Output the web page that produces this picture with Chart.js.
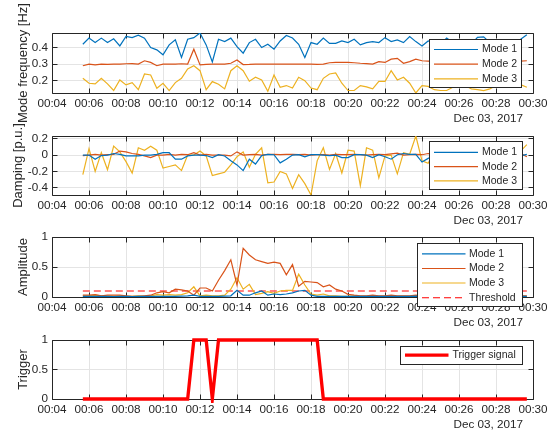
<!DOCTYPE html>
<html>
<head>
<meta charset="utf-8">
<script src="https://cdn.jsdelivr.net/npm/chart.js@4.4.1/dist/chart.umd.min.js"></script>
<style>
  html, body { margin: 0; padding: 0; background: #ffffff; }
  #panels { position: relative; width: 559px; height: 437px; }
  #panels canvas { position: absolute; left: 0; top: 0; }
</style>
</head>
<body>
<div id="panels">
  <canvas id="freq" width="559" height="437"></canvas>
  <canvas id="damp" width="559" height="437"></canvas>
  <canvas id="amp" width="559" height="437"></canvas>
  <canvas id="trig" width="559" height="437"></canvas>
</div>
<script>
// ---- sample instants (20 s resolution) ----
const sampleTimes = [
  '00:05:40',
  '00:06:00','00:06:20','00:06:40','00:07:00','00:07:20','00:07:40',
  '00:08:00','00:08:20','00:08:40','00:09:00','00:09:20','00:09:40',
  '00:10:00','00:10:20','00:10:40','00:11:00','00:11:20','00:11:40',
  '00:12:00','00:12:20','00:12:40','00:13:00','00:13:20','00:13:40',
  '00:14:00','00:14:20','00:14:40','00:15:00','00:15:20','00:15:40',
  '00:16:00','00:16:20','00:16:40','00:17:00','00:17:20','00:17:40',
  '00:18:00','00:18:20','00:18:40','00:19:00','00:19:20','00:19:40',
  '00:20:00','00:20:20','00:20:40','00:21:00','00:21:20','00:21:40',
  '00:22:00','00:22:20','00:22:40','00:23:00','00:23:20','00:23:40',
  '00:24:00','00:24:20','00:24:40','00:25:00','00:25:20','00:25:40',
  '00:26:00','00:26:20','00:26:40','00:27:00','00:27:20','00:27:40',
  '00:28:00','00:28:20','00:28:40','00:29:00','00:29:20','00:29:40'
];
const xTickLabels = ['00:04','00:06','00:08','00:10','00:12','00:14','00:16',
                     '00:18','00:20','00:22','00:24','00:26','00:28','00:30'];
const dateLabel = 'Dec 03, 2017';
const yTitles = ['Mode frequency [Hz]', 'Damping [p.u.]', 'Amplitude', 'Trigger'];
const modeNames = ['Mode 1', 'Mode 2', 'Mode 3'];

// ---- mode frequency [Hz] ----
const freqMode1 = [
  0.420,0.457,0.430,0.457,0.430,0.453,0.410,0.467,0.460,0.475,
  0.457,0.400,0.386,0.356,0.416,0.447,0.340,0.450,0.460,0.488,
  0.416,0.313,0.450,0.436,0.457,0.406,0.366,0.430,0.450,0.400,
  0.420,0.390,0.440,0.473,0.458,0.420,0.340,0.430,0.420,0.457,
  0.425,0.425,0.440,0.430,0.450,0.416,0.430,0.436,0.430,0.460,
  0.436,0.446,0.430,0.467,0.436,0.410,0.440,0.430,0.420,0.458,
  0.430,0.410,0.440,0.420,0.462,0.465,0.430,0.410,0.440,0.420,
  0.430,0.450,0.478
];
const freqMode2 = [
  0.290,0.300,0.295,0.300,0.298,0.300,0.300,0.302,0.303,0.300,
  0.320,0.310,0.290,0.300,0.300,0.300,0.302,0.300,0.390,0.295,
  0.298,0.300,0.300,0.300,0.305,0.325,0.297,0.298,0.300,0.300,
  0.300,0.300,0.300,0.300,0.300,0.300,0.300,0.300,0.298,0.300,
  0.308,0.310,0.310,0.310,0.308,0.305,0.303,0.300,0.315,0.310,
  0.330,0.335,0.305,0.315,0.330,0.320,0.318,0.315,0.312,0.310,
  0.312,0.315,0.318,0.315,0.312,0.310,0.315,0.318,0.320,0.318,
  0.315,0.318,0.320
];
const freqMode3 = [
  0.214,0.184,0.180,0.214,0.180,0.140,0.204,0.174,0.188,0.145,
  0.240,0.234,0.154,0.184,0.140,0.188,0.214,0.270,0.290,0.260,
  0.145,0.194,0.178,0.150,0.260,0.290,0.260,0.196,0.220,0.204,
  0.135,0.234,0.160,0.170,0.155,0.220,0.200,0.155,0.145,0.214,
  0.240,0.247,0.184,0.140,0.140,0.170,0.162,0.150,0.195,0.195,
  0.260,0.204,0.220,0.184,0.125,0.170,0.165,0.145,0.140,0.140,
  0.160,0.180,0.170,0.150,0.145,0.140,0.150,0.170,0.160,0.180,
  0.170,0.175,0.160
];

// ---- damping [p.u.] ----
const dampMode1 = [
  0.000,0.000,-0.050,-0.005,0.000,0.020,0.010,-0.010,-0.010,-0.010,
  0.000,0.000,0.010,0.030,0.030,-0.050,-0.050,-0.010,0.000,0.000,
  -0.005,-0.030,0.005,-0.010,-0.070,-0.120,-0.190,-0.050,-0.110,-0.005,
  0.010,0.005,-0.095,-0.050,0.000,0.005,-0.020,0.005,0.005,0.000,
  -0.005,0.000,-0.030,-0.030,0.005,0.005,0.000,-0.030,0.005,-0.020,
  -0.050,0.005,0.020,0.010,0.010,-0.085,-0.040,-0.010,0.005,-0.020,
  0.000,0.010,-0.030,-0.010,0.005,-0.015,0.000,0.010,-0.020,0.000,
  0.005,-0.010,0.010
];
const dampMode2 = [
  -0.005,0.000,0.010,0.000,0.005,0.010,0.050,0.040,0.020,0.010,
  -0.010,-0.030,0.000,0.000,0.010,0.000,0.010,0.005,0.030,0.000,
  0.010,0.000,0.000,0.000,-0.010,0.040,0.000,0.005,0.010,0.000,
  0.010,0.010,0.005,0.010,0.010,0.005,0.010,0.000,0.005,0.005,
  0.000,0.010,0.005,0.005,0.010,0.005,0.000,0.005,0.010,0.005,
  0.015,0.025,0.000,0.005,0.010,0.005,0.020,0.010,0.000,0.005,
  0.010,0.000,0.005,0.010,0.000,0.005,0.010,0.005,0.000,0.010,
  0.000,0.020,-0.020
];
const dampMode3 = [
  -0.240,0.080,-0.200,0.030,-0.180,0.110,0.040,-0.080,-0.220,0.090,
  0.060,0.110,0.060,-0.160,-0.140,-0.120,-0.190,0.000,0.000,0.050,
  -0.010,-0.250,-0.230,-0.210,-0.120,-0.020,0.040,-0.150,0.010,0.090,
  -0.340,-0.330,-0.200,-0.230,-0.410,-0.240,-0.350,-0.490,-0.070,0.090,
  -0.175,0.020,-0.220,0.060,0.050,-0.375,0.090,0.060,-0.280,-0.010,
  0.000,-0.230,0.030,0.010,0.235,-0.070,-0.100,0.050,-0.200,0.000,
  -0.150,0.080,-0.050,-0.200,0.020,-0.100,0.050,-0.180,0.000,-0.080,
  0.040,0.050,0.130
];

// ---- amplitude ----
const ampMode1 = [
  0.010,0.010,0.012,0.010,0.010,0.008,0.010,0.010,0.008,0.010,
  0.010,0.012,0.010,0.010,0.012,0.010,0.015,0.020,0.030,0.010,
  0.010,0.012,0.010,0.015,0.020,0.110,0.030,0.030,0.070,0.100,
  0.030,0.050,0.040,0.050,0.070,0.100,0.110,0.030,0.010,0.010,
  0.010,0.012,0.010,0.010,0.012,0.010,0.010,0.012,0.010,0.010,
  0.012,0.010,0.010,0.012,0.015,0.010,0.010,0.012,0.010,0.010,
  0.012,0.010,0.010,0.012,0.010,0.010,0.012,0.010,0.010,0.012,
  0.010,0.010,0.010
];
const ampMode2 = [
  0.030,0.030,0.040,0.020,0.030,0.030,0.030,0.020,0.010,0.010,
  0.020,0.030,0.070,0.090,0.070,0.130,0.120,0.100,0.030,0.150,
  0.150,0.100,0.280,0.440,0.620,0.200,0.810,0.700,0.620,0.590,
  0.560,0.580,0.560,0.370,0.540,0.180,0.260,0.250,0.240,0.170,
  0.200,0.130,0.100,0.045,0.030,0.020,0.020,0.030,0.020,0.020,
  0.030,0.020,0.020,0.020,0.030,0.020,0.020,0.020,0.020,0.020,
  0.020,0.020,0.020,0.020,0.020,0.020,0.020,0.020,0.020,0.020,
  0.020,0.020,0.020
];
const ampMode3 = [
  0.020,0.020,0.030,0.020,0.020,0.010,0.020,0.010,0.010,0.020,
  0.010,0.020,0.040,0.030,0.040,0.030,0.040,0.070,0.170,0.020,
  0.030,0.020,0.020,0.030,0.130,0.320,0.130,0.210,0.040,0.060,
  0.090,0.060,0.100,0.110,0.110,0.380,0.200,0.050,0.030,0.050,
  0.020,0.020,0.010,0.010,0.020,0.010,0.010,0.020,0.010,0.010,
  0.020,0.010,0.010,0.010,0.020,0.010,0.010,0.010,0.010,0.010,
  0.010,0.010,0.010,0.010,0.010,0.010,0.010,0.010,0.010,0.010,
  0.010,0.010,0.010
];
const threshold = 0.1;

// ---- trigger signal ----
const triggerSignal = [
  0,0,0,0,0,0,0,0,0,0,
  0,0,0,0,0,0,0,0,1,1,
  1,0,1,1,1,1,1,1,1,1,
  1,1,1,1,1,1,1,1,1,0,
  0,0,0,0,0,0,0,0,0,0,
  0,0,0,0,0,0,0,0,0,0,
  0,0,0,0,0,0,0,0,0,0,
  0,0,0
];

// ---- axis ticks ----
const freqTicks = [0.2, 0.3, 0.4];
const dampTicks = [-0.4, -0.2, 0, 0.2];
const unitTicks = [0, 0.5, 1];
const freqTickLabels = ['0.2', '0.3', '0.4'];
const dampTickLabels = ['-0.4', '-0.2', '0', '0.2'];
const unitTickLabels = ['0', '0.5', '1'];

// ---- drawing ----
const INK = '#262626';
const GRID = '#e4e4e4';
const FONT = '"Liberation Sans", Arial, Helvetica, sans-serif';
const C1 = '#0072BD', C2 = '#D95319', C3 = '#EDB120';

const toMinutes = s => {
  const p = s.split(':').map(Number);
  return p[0] * 60 + p[1] + (p[2] || 0) / 60;
};
const sampleMinutes = sampleTimes.map(toMinutes);
const xTickValues = xTickLabels.map(toMinutes);
const align = p => Math.round(p - 0.5) + 0.5;

Chart.defaults.font.family = FONT;
Chart.defaults.font.size = 11.7;
Chart.defaults.color = INK;

// axes box with inward tick marks on all four sides
const axesBox = {
  id: 'axesBox',
  beforeDatasetsDraw(chart) {
    const {ctx, chartArea: a, scales: {x, y}} = chart;
    const L = align(a.left), R = align(a.right), T = align(a.top), B = align(a.bottom);
    const len = 5;
    ctx.save();
    ctx.strokeStyle = INK;
    ctx.lineWidth = 1;
    ctx.beginPath();
    ctx.rect(L, T, R - L, B - T);
    x.ticks.forEach(t => {
      const px = align(x.getPixelForValue(t.value));
      ctx.moveTo(px, B); ctx.lineTo(px, B - len);
      ctx.moveTo(px, T); ctx.lineTo(px, T + len);
    });
    y.ticks.forEach(t => {
      const py = align(y.getPixelForValue(t.value));
      ctx.moveTo(L, py); ctx.lineTo(L + len, py);
      ctx.moveTo(R, py); ctx.lineTo(R - len, py);
    });
    ctx.stroke();
    ctx.restore();
  }
};

// y-axis title, date line under the time axis, boxed legend
const panelText = {
  id: 'panelText',
  afterDraw(chart, args, o) {
    const {ctx, chartArea: a} = chart;
    ctx.save();
    ctx.fillStyle = INK;
    ctx.font = o.titleSize + 'px ' + FONT;
    ctx.translate(o.titleX, (a.top + a.bottom) / 2);
    ctx.rotate(-Math.PI / 2);
    ctx.textAlign = 'center';
    ctx.textBaseline = 'middle';
    ctx.fillText(o.title, 0, 0);
    ctx.restore();

    ctx.save();
    ctx.fillStyle = INK;
    ctx.font = o.dateSize + 'px ' + FONT;
    ctx.textAlign = 'right';
    ctx.textBaseline = 'middle';
    ctx.fillText(o.date, o.dateX, a.bottom + o.dateDy);
    ctx.restore();

    const lg = o.legend;
    ctx.save();
    ctx.fillStyle = '#ffffff';
    ctx.fillRect(lg.box[0], lg.box[1], lg.box[2], lg.box[3]);
    ctx.strokeStyle = INK;
    ctx.lineWidth = 1;
    ctx.strokeRect(lg.box[0] + 0.5, lg.box[1] + 0.5, lg.box[2], lg.box[3]);
    ctx.font = lg.size + 'px ' + FONT;
    ctx.textAlign = 'left';
    ctx.textBaseline = 'middle';
    chart.data.datasets.forEach((ds, k) => {
      const yy = lg.rows[k];
      ctx.strokeStyle = ds.borderColor;
      ctx.lineWidth = ds.borderWidth;
      ctx.setLineDash(ds.borderDash || []);
      ctx.beginPath();
      ctx.moveTo(lg.line[0], yy);
      ctx.lineTo(lg.line[1], yy);
      ctx.stroke();
      ctx.setLineDash([]);
      ctx.fillStyle = INK;
      ctx.fillText(ds.label, lg.textX, yy);
    });
    ctx.restore();
  }
};

function series(label, values, color, width) {
  return {
    label,
    data: values.map((v, k) => ({x: sampleMinutes[k], y: v})),
    borderColor: color,
    borderWidth: width,
    pointRadius: 0,
    tension: 0,
    fill: false
  };
}

function panel(id, p) {
  return new Chart(document.getElementById(id), {
    type: 'line',
    data: {datasets: p.datasets},
    plugins: [axesBox, panelText],
    options: {
      responsive: false,
      animation: false,
      events: [],
      layout: {padding: {left: 0, right: 26, top: p.top, bottom: 437 - p.bottom - 20}},
      scales: {
        x: {
          type: 'linear',
          min: xTickValues[0],
          max: xTickValues[xTickValues.length - 1],
          afterBuildTicks: s => { s.ticks = xTickValues.map(v => ({value: v})); },
          afterFit: s => { s.height = 20; },
          grid: {color: GRID, lineWidth: 1, drawTicks: false},
          border: {display: false},
          ticks: {autoSkip: false, maxRotation: 0, padding: 4, color: INK,
                  callback: (v, i) => xTickLabels[i]}
        },
        y: {
          type: 'linear',
          min: p.yMin,
          max: p.yMax,
          afterBuildTicks: s => { s.ticks = p.yTicks.map(v => ({value: v})); },
          afterFit: s => { s.width = 52; },
          grid: {color: GRID, lineWidth: 1, drawTicks: false},
          border: {display: false},
          ticks: {padding: 4, color: INK, callback: (v, i) => p.yTickLabels[i]}
        }
      },
      plugins: {
        legend: {display: false},
        tooltip: {enabled: false},
        panelText: {
          title: p.title, titleX: p.titleX, titleSize: 13,
          date: dateLabel, dateX: 523, dateDy: 26, dateSize: 11.7,
          legend: p.legend
        }
      }
    }
  });
}

panel('freq', {
  top: 33, bottom: 93, yMin: 0.125, yMax: 0.488,
  yTicks: freqTicks, yTickLabels: freqTickLabels,
  title: yTitles[0], titleX: 23,
  datasets: [
    series(modeNames[0], freqMode1, C1, 1.2),
    series(modeNames[1], freqMode2, C2, 1.2),
    series(modeNames[2], freqMode3, C3, 1.2)
  ],
  legend: {box: [429, 39, 92, 48], rows: [49.5, 64.2, 78.8], line: [434, 478], textX: 482, size: 10.5}
});

panel('damp', {
  top: 136, bottom: 195, yMin: -0.49, yMax: 0.235,
  yTicks: dampTicks, yTickLabels: dampTickLabels,
  title: yTitles[1], titleX: 18,
  datasets: [
    series(modeNames[0], dampMode1, C1, 1.2),
    series(modeNames[1], dampMode2, C2, 1.2),
    series(modeNames[2], dampMode3, C3, 1.2)
  ],
  legend: {box: [429, 141, 93, 48], rows: [152.3, 166.7, 180.9], line: [434, 478], textX: 482, size: 10.5}
});

const thresholdSet = {
  label: 'Threshold',
  data: [{x: sampleMinutes[0], y: threshold}, {x: sampleMinutes[sampleMinutes.length - 1], y: threshold}],
  borderColor: '#FF0000', borderWidth: 1.1, borderDash: [7, 4],
  pointRadius: 0, tension: 0, fill: false
};
panel('amp', {
  top: 237, bottom: 297, yMin: 0, yMax: 1,
  yTicks: unitTicks, yTickLabels: unitTickLabels,
  title: yTitles[2], titleX: 23,
  datasets: [
    series(modeNames[0], ampMode1, C1, 1.2),
    series(modeNames[1], ampMode2, C2, 1.2),
    series(modeNames[2], ampMode3, C3, 1.2),
    thresholdSet
  ],
  legend: {box: [417, 243, 105, 63], rows: [253.8, 268.5, 283, 297.8], line: [422, 465.5], textX: 469, size: 10.5}
});

const trigSet = series('Trigger signal', triggerSignal, '#FF0000', 3.3);
trigSet.clip = 4;
panel('trig', {
  top: 340, bottom: 399, yMin: 0, yMax: 1,
  yTicks: unitTicks, yTickLabels: unitTickLabels,
  title: yTitles[3], titleX: 23,
  datasets: [trigSet],
  legend: {box: [400, 346, 122, 18], rows: [355.2], line: [405, 448.5], textX: 452.5, size: 10.5}
});
</script>
</body>
</html>
